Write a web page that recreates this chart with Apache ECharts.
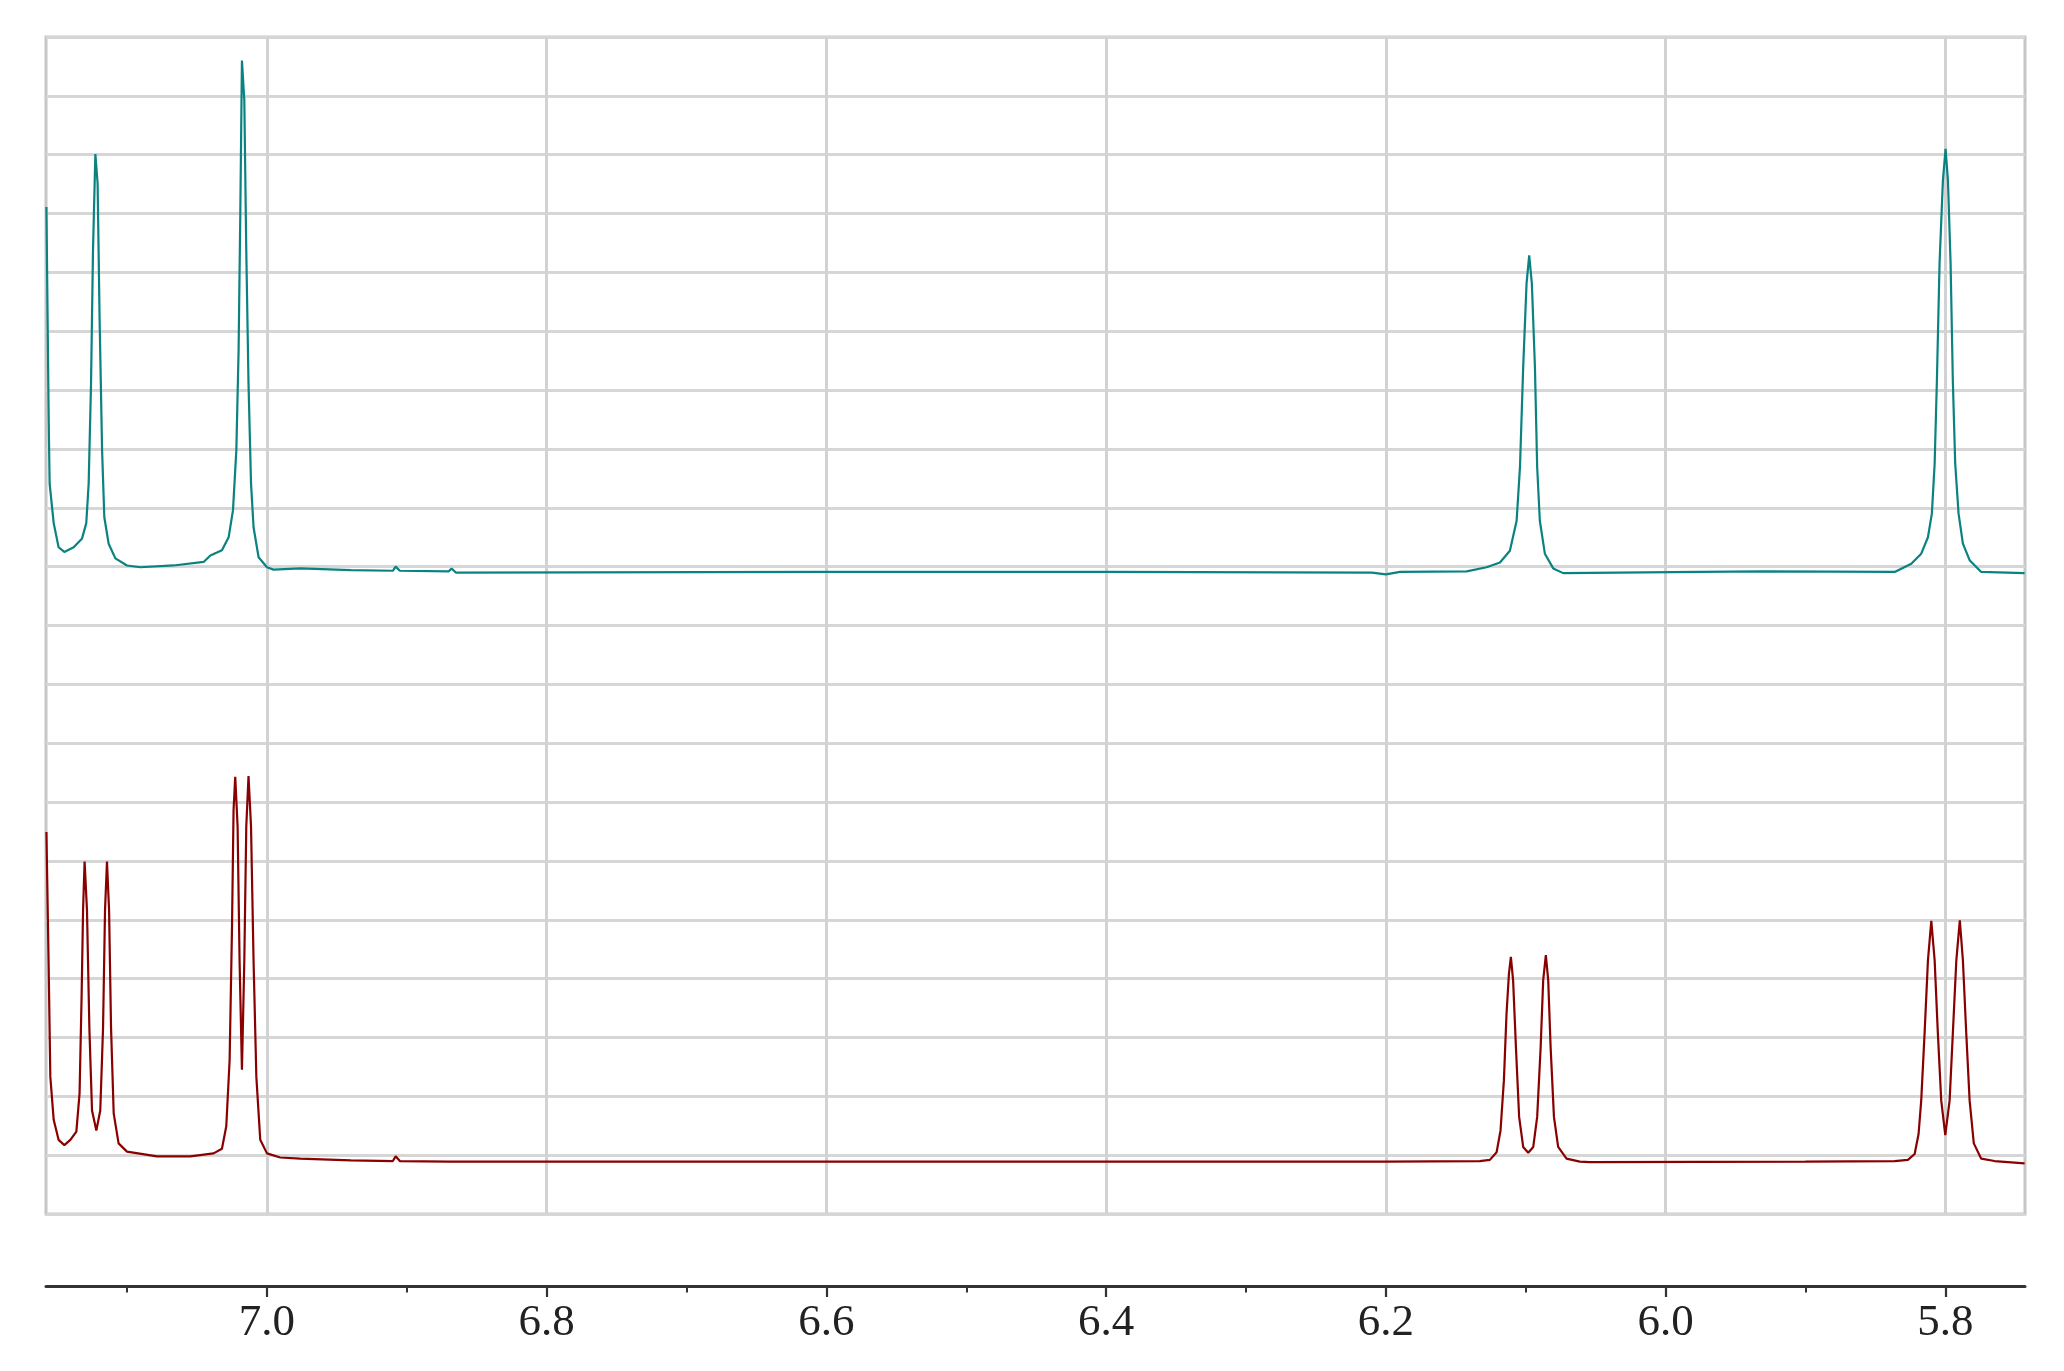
<!DOCTYPE html>
<html>
<head>
<meta charset="utf-8">
<script src="https://cdn.jsdelivr.net/npm/echarts@6/dist/echarts.min.js"></script>
<style>html,body{margin:0;padding:0;background:#fff}#c{width:2064px;height:1371px}</style>
</head>
<body>
<div id="c"></div>
<script>
// chemical shift range (ppm), axis reversed
const shiftMin = 5.743;
const shiftMax = 7.158;
const majorTicks = [5.8, 6.0, 6.2, 6.4, 6.6, 6.8, 7.0];
const tickLabels = ['5.8', '6.0', '6.2', '6.4', '6.6', '6.8', '7.0'];
const minorTicks = [5.9, 6.1, 6.3, 6.5, 6.7, 6.9, 7.1];

// upper (teal) spectrum
const tealShift = [
  7.1577, 7.1561, 7.1554, 7.1525, 7.1490, 7.1449, 7.1382, 7.1322, 7.1292, 7.1275,
  7.1258, 7.1244, 7.1227, 7.1211, 7.1197, 7.1179, 7.1163, 7.1132, 7.1084, 7.1001,
  7.0906, 7.0668, 7.0453, 7.0405, 7.0322, 7.0274, 7.0243, 7.0219, 7.0203, 7.0191,
  7.0179, 7.0162, 7.0148, 7.0132, 7.0114, 7.0096, 7.0060, 7.0000, 6.9953, 6.9762,
  6.9400, 6.9100, 6.9080, 6.9050, 6.8700, 6.8680, 6.8650, 6.6000, 6.4000, 6.2100,
  6.2000, 6.1899, 6.1422, 6.1280, 6.1184, 6.1113, 6.1065, 6.1041, 6.1018, 6.0994,
  6.0975, 6.0956, 6.0934, 6.0918, 6.0899, 6.0863, 6.0803, 6.0732, 5.9755, 5.9300,
  5.8362, 5.8243, 5.8172, 5.8124, 5.8096, 5.8076, 5.8060, 5.8041, 5.8017, 5.7998,
  5.7981, 5.7962, 5.7946, 5.7929, 5.7905, 5.7874, 5.7826, 5.7743, 5.7433
];
const tealIntensity = [
  17.11, 13.54, 12.41, 11.74, 11.33, 11.25, 11.33, 11.48, 11.74, 12.41,
  14.11, 16.37, 18.01, 17.51, 15.24, 12.98, 11.84, 11.39, 11.14, 11.02,
  10.99, 11.02, 11.08, 11.19, 11.28, 11.50, 11.96, 12.98, 14.67, 16.94,
  19.60, 18.92, 16.37, 14.11, 12.41, 11.67, 11.16, 10.99, 10.95, 10.97,
  10.94, 10.93, 11.00, 10.93, 10.92, 10.97, 10.90, 10.91, 10.91, 10.90,
  10.87, 10.91, 10.92, 10.99, 11.07, 11.27, 11.78, 12.69, 14.39, 15.81,
  16.29, 15.81, 14.39, 12.69, 11.78, 11.22, 10.97, 10.89, 10.91, 10.92,
  10.91, 11.05, 11.22, 11.50, 11.90, 12.75, 14.16, 16.15, 17.56, 18.10,
  17.56, 16.15, 14.16, 12.75, 11.90, 11.39, 11.11, 10.91, 10.89
];

// lower (dark red) spectrum
const redShift = [
  7.1577, 7.1561, 7.1549, 7.1525, 7.1490, 7.1449, 7.1406, 7.1363, 7.1340, 7.1325,
  7.1315, 7.1304, 7.1287, 7.1270, 7.1251, 7.1220, 7.1192, 7.1172, 7.1158, 7.1144,
  7.1129, 7.1115, 7.1096, 7.1061, 7.1001, 7.0786, 7.0548, 7.0382, 7.0322, 7.0291,
  7.0267, 7.0250, 7.0239, 7.0227, 7.0210, 7.0196, 7.0179, 7.0162, 7.0148, 7.0132,
  7.0114, 7.0096, 7.0076, 7.0048, 7.0000, 6.9905, 6.9762, 6.9400, 6.9100, 6.9080,
  6.9050, 6.8700, 6.6000, 6.4000, 6.2000, 6.1328, 6.1256, 6.1208, 6.1180, 6.1156,
  6.1137, 6.1120, 6.1106, 6.1090, 6.1070, 6.1047, 6.1018, 6.0982, 6.0946, 6.0918,
  6.0893, 6.0875, 6.0856, 6.0839, 6.0822, 6.0798, 6.0768, 6.0708, 6.0613, 6.0542,
  5.9000, 5.8362, 5.8267, 5.8219, 5.8191, 5.8172, 5.8148, 5.8124, 5.8100, 5.8076,
  5.8053, 5.8029, 5.8000, 5.7969, 5.7946, 5.7921, 5.7896, 5.7874, 5.7850, 5.7826,
  5.7796, 5.7743, 5.7648, 5.7433
];
const redIntensity = [
  6.49, 4.21, 2.33, 1.60, 1.26, 1.17, 1.26, 1.40, 2.05, 3.75,
  5.16, 5.99, 5.16, 3.17, 1.76, 1.42, 1.76, 3.17, 5.16, 5.99,
  5.16, 3.17, 1.71, 1.20, 1.06, 0.98, 0.98, 1.03, 1.11, 1.49,
  2.62, 4.88, 6.86, 7.43, 6.58, 4.31, 2.45, 4.31, 6.58, 7.44,
  6.58, 4.31, 2.33, 1.26, 1.03, 0.96, 0.94, 0.91, 0.90, 0.98,
  0.90, 0.89, 0.89, 0.89, 0.89, 0.90, 0.92, 1.05, 1.42, 2.27,
  3.41, 4.08, 4.37, 3.97, 2.84, 1.65, 1.14, 1.04, 1.14, 1.65,
  2.84, 3.97, 4.40, 3.97, 2.84, 1.65, 1.14, 0.94, 0.89, 0.88,
  0.89, 0.90, 0.92, 1.02, 1.36, 1.93, 3.07, 4.31, 4.98, 4.31,
  3.07, 1.93, 1.34, 1.93, 3.07, 4.31, 4.99, 4.31, 3.07, 1.93,
  1.20, 0.94, 0.90, 0.86
];

const zip = (xs, ys) => xs.map((x, i) => [x, ys[i]]);
const labelFor = v => {
  const i = majorTicks.findIndex(t => Math.abs(t - v) < 1e-6);
  return i >= 0 ? tickLabels[i] : '';
};

const axisGrid = () => ({ left: 46, right: 39, top: 1285, height: 1, show: false });
const baseX = () => ({ type: 'value', min: shiftMin, max: shiftMax, inverse: true, position: 'bottom' });
const hiddenY = i => ({ type: 'value', gridIndex: i, min: 0, max: 1, show: false });

const chart = echarts.init(document.getElementById('c'), null, { renderer: 'canvas' });
chart.setOption({
  animation: false,
  backgroundColor: '#ffffff',
  grid: [
    { left: 46, right: 39, top: 37, bottom: 157, show: true, borderColor: '#c6c6c6', borderWidth: 3, backgroundColor: 'transparent' },
    axisGrid(), axisGrid(), axisGrid()
  ],
  xAxis: [
    Object.assign(baseX(), {
      gridIndex: 0,
      axisLine: { show: false },
      axisTick: { show: false, customValues: majorTicks.slice() },
      axisLabel: { show: false, customValues: majorTicks.slice() },
      splitLine: { show: true, lineStyle: { color: '#d2d2d2', width: 3 } }
    }),
    Object.assign(baseX(), {
      gridIndex: 1,
      axisLine: { show: true, onZero: false, lineStyle: { color: '#333333', width: 3 } },
      axisTick: { show: false },
      axisLabel: {
        show: true, customValues: majorTicks.slice(), margin: 15,
        fontFamily: 'Liberation Serif', fontSize: 45, color: '#222222',
        formatter: labelFor
      },
      splitLine: { show: false }
    }),
    Object.assign(baseX(), {
      gridIndex: 2,
      axisLine: { show: false, onZero: false },
      axisTick: { show: true, customValues: majorTicks.slice(), length: 11, lineStyle: { color: '#333333', width: 2.2 } },
      axisLabel: { show: false },
      splitLine: { show: false }
    }),
    Object.assign(baseX(), {
      gridIndex: 3,
      axisLine: { show: false, onZero: false },
      axisTick: { show: true, customValues: minorTicks.slice(), length: 6.5, lineStyle: { color: '#333333', width: 2 } },
      axisLabel: { show: false },
      splitLine: { show: false }
    })
  ],
  yAxis: [
    {
      type: 'value', gridIndex: 0, min: 0, max: 20, interval: 1,
      axisLine: { show: false }, axisTick: { show: false }, axisLabel: { show: false },
      splitLine: { show: true, lineStyle: { color: '#d6d6d6', width: 3 } }
    },
    hiddenY(1), hiddenY(2), hiddenY(3)
  ],
  series: [
    {
      name: 'upper', type: 'line', xAxisIndex: 0, yAxisIndex: 0, showSymbol: false, symbol: 'none',
      data: zip(tealShift, tealIntensity),
      lineStyle: { color: '#0a8282', width: 2.2 }, z: 3
    },
    {
      name: 'lower', type: 'line', xAxisIndex: 0, yAxisIndex: 0, showSymbol: false, symbol: 'none',
      data: zip(redShift, redIntensity),
      lineStyle: { color: '#880000', width: 2.2 }, z: 3
    }
  ]
});
</script>
</body>
</html>
